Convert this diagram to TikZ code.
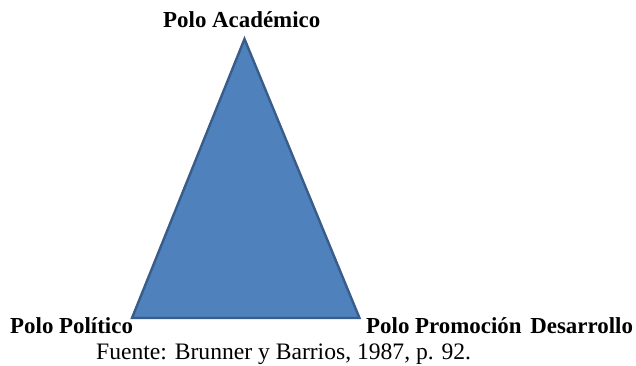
\documentclass[tikz,border=0pt]{standalone}
\usepackage{fontspec}
\setmainfont{Liberation Serif}
\begin{document}
\begin{tikzpicture}[x=1pt,y=-1pt,
  lbl/.style={font=\fontsize{22.9}{24}\selectfont\bfseries, inner sep=0pt, anchor=base west},
  src/.style={font=\fontsize{23.6}{25}\selectfont, inner sep=0pt, anchor=base west},
  tri/.style={fill=triFill, draw=triLine, line width=2.4pt, line join=miter}]
\definecolor{triFill}{HTML}{4F81BD}
\definecolor{triLine}{HTML}{385D8A}
\useasboundingbox (0,0) rectangle (636,365);
\coordinate (A) at (244.5,39);
\coordinate (L) at (132,318);
\coordinate (R) at (359.5,318);
\draw[tri] (A) -- (R) -- (L) -- cycle;
\node[lbl] (ac) at (163,27) {Polo Académico};
\node[lbl] (po) at (10,333) {Polo Político};
\node[lbl] (pr) at (366,333) {Polo Promoción\hspace{3pt} Desarrollo};
\node[src] (fu) at (96,359.5) {Fuente: Brunner y Barrios, 1987, p. 92.};
\end{tikzpicture}
\end{document}
